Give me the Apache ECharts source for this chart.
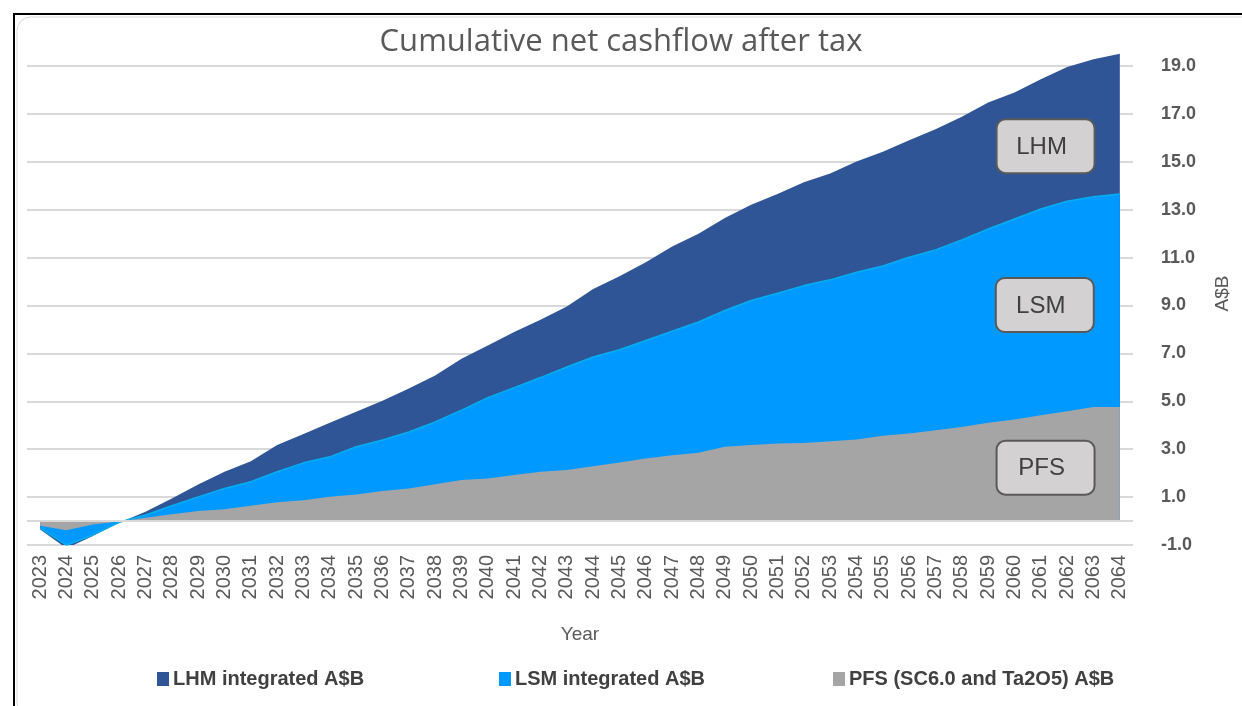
<!DOCTYPE html>
<html>
<head>
<meta charset="utf-8">
<script src="https://cdn.jsdelivr.net/npm/echarts@6/dist/echarts.min.js"></script>
<style>
html,body{margin:0;padding:0;background:#fff;}
#chart{width:1242px;height:706px;}
</style>
</head>
<body>
<div id="chart"></div>
<script>
const years = [];
for (let y = 2023; y <= 2064; y++) years.push(String(y));

const lhm = [-0.35,-1.14,-0.62,-0.07,0.39,0.94,1.53,2.06,2.50,3.17,3.63,4.10,4.56,5.02,5.53,6.08,6.78,7.33,7.89,8.40,8.96,9.69,10.22,10.80,11.46,11.99,12.65,13.21,13.65,14.14,14.51,15.01,15.42,15.90,16.36,16.88,17.47,17.89,18.45,18.96,19.28,19.51];
const lsm = [-0.30,-1.01,-0.58,-0.05,0.25,0.64,1.01,1.36,1.64,2.06,2.43,2.68,3.10,3.38,3.72,4.14,4.63,5.15,5.57,5.99,6.43,6.85,7.15,7.54,7.93,8.31,8.79,9.21,9.51,9.83,10.07,10.39,10.65,11.01,11.32,11.74,12.19,12.61,13.03,13.35,13.54,13.65];
const pfs = [-0.20,-0.38,-0.14,-0.02,0.14,0.28,0.42,0.49,0.64,0.79,0.87,1.01,1.11,1.25,1.36,1.54,1.71,1.78,1.92,2.06,2.13,2.29,2.44,2.61,2.75,2.85,3.10,3.17,3.24,3.26,3.33,3.40,3.56,3.65,3.79,3.93,4.10,4.24,4.42,4.58,4.76,4.76];

const seriesNames = ['LHM integrated A$B', 'LSM integrated A$B', 'PFS (SC6.0 and Ta2O5) A$B'];
const annotations = [
  {text: 'LHM', year: '2061', frac: 0.18, value: 15.65},
  {text: 'LSM', year: '2061', frac: 0.15, value: 9.02},
  {text: 'PFS', year: '2061', frac: 0.18, value: 2.23}
];

const colors = ['#2f5597', '#0099ff', '#a5a5a5'];
const chart = echarts.init(document.getElementById('chart'), null, {renderer: 'canvas'});

const legendStyle = {fontFamily: 'Liberation Sans', fontWeight: 'bold', fontSize: 20, color: '#404040'};
function mkLegend(name, left) {
  return {data: [name], left: left, top: 669, padding: 0, icon: 'rect', itemWidth: 12, itemHeight: 14, itemGap: 4,
    textStyle: Object.assign({padding: [0, 0, 0, -1]}, legendStyle), selectedMode: false};
}

const option = {
  backgroundColor: '#ffffff',
  animation: false,
  title: {
    text: 'Cumulative net cashflow after tax',
    left: 'center', top: 22,
    textStyle: {fontFamily: 'Open Sans', fontWeight: 400, fontSize: 31, color: '#595959'}
  },
  legend: [mkLegend(seriesNames[0], 157), mkLegend(seriesNames[1], 499), mkLegend(seriesNames[2], 833)],
  grid: {left: 27, right: 109, top: 42, bottom: 161, containLabel: false},
  xAxis: {
    type: 'category', data: years, boundaryGap: true,
    axisLine: {show: false}, axisTick: {show: false},
    axisLabel: {rotate: 90, interval: 0, margin: 10, fontFamily: 'Liberation Sans', fontSize: 20, color: '#595959'},
    name: 'Year', nameLocation: 'middle', nameGap: 80,
    nameTextStyle: {fontFamily: 'Liberation Sans', fontSize: 19, color: '#595959'}
  },
  yAxis: {
    type: 'value', position: 'right', min: -1, max: 20, interval: 2,
    axisLine: {show: false}, axisTick: {show: false},
    splitLine: {show: true, showMaxLine: false, lineStyle: {color: '#d9d9d9', width: 2}},
    axisLabel: {showMaxLabel: false, margin: 28, align: 'left', fontFamily: 'Liberation Sans', fontWeight: 'bold', fontSize: 18, color: '#595959',
      formatter: v => v.toFixed(1)},
    name: 'A$B', nameLocation: 'middle', nameGap: 80, nameRotate: 90,
    nameTextStyle: {fontFamily: 'Liberation Sans', fontSize: 19, color: '#595959'}
  },
  series: [
    {name: seriesNames[0], type: 'line', data: lhm, symbol: 'none', z: 2,
      lineStyle: {width: 0, color: colors[0]}, itemStyle: {color: colors[0]}, areaStyle: {color: colors[0], opacity: 1}},
    {name: seriesNames[1], type: 'line', data: lsm, symbol: 'none', z: 3,
      lineStyle: {width: 1.5, color: '#00b0f0'}, itemStyle: {color: colors[1]}, areaStyle: {color: colors[1], opacity: 1}},
    {name: seriesNames[2], type: 'line', data: pfs, symbol: 'none', z: 4,
      lineStyle: {width: 0, color: colors[2]}, itemStyle: {color: colors[2]}, areaStyle: {color: colors[2], opacity: 1},
      markLine: {silent: true, symbol: 'none', label: {show: false}, animation: false,
        lineStyle: {color: '#d9d9d9', width: 2, type: 'solid'}, data: [{yAxis: 0}]}}
  ]
};
chart.setOption(option);

// annotation boxes positioned through the chart's own scales
const elements = [
  {type: 'rect', shape: {x: 14, y: 14, width: 1240, height: 700}, style: {fill: 'none', stroke: '#000', lineWidth: 2}, z: 100, silent: true},
  {type: 'rect', shape: {x: 17, y: 17, width: 1240, height: 700, r: 14}, style: {fill: 'none', stroke: '#d9d9d9', lineWidth: 1}, z: 100, silent: true}
];
annotations.forEach(a => {
  const i = years.indexOf(a.year);
  const p0 = chart.convertToPixel({xAxisIndex: 0, yAxisIndex: 0}, [i, a.value]);
  const p1 = chart.convertToPixel({xAxisIndex: 0, yAxisIndex: 0}, [i + 1, a.value]);
  const cx = p0[0] + (p1[0] - p0[0]) * a.frac;
  const cy = p0[1];
  const w = 98, h = 54;
  elements.push({type: 'rect', z: 100, silent: true,
    shape: {x: cx - w / 2, y: cy - h / 2, width: w, height: h, r: 9},
    style: {fill: '#d3d1d2', stroke: '#595959', lineWidth: 2}});
  elements.push({type: 'text', z: 101, silent: true, x: cx - 4, y: cy + 1,
    style: {text: a.text, fill: '#404040', font: '24px "Liberation Sans"', align: 'center', verticalAlign: 'middle'}});
});
chart.setOption({graphic: elements});
</script>
</body>
</html>
